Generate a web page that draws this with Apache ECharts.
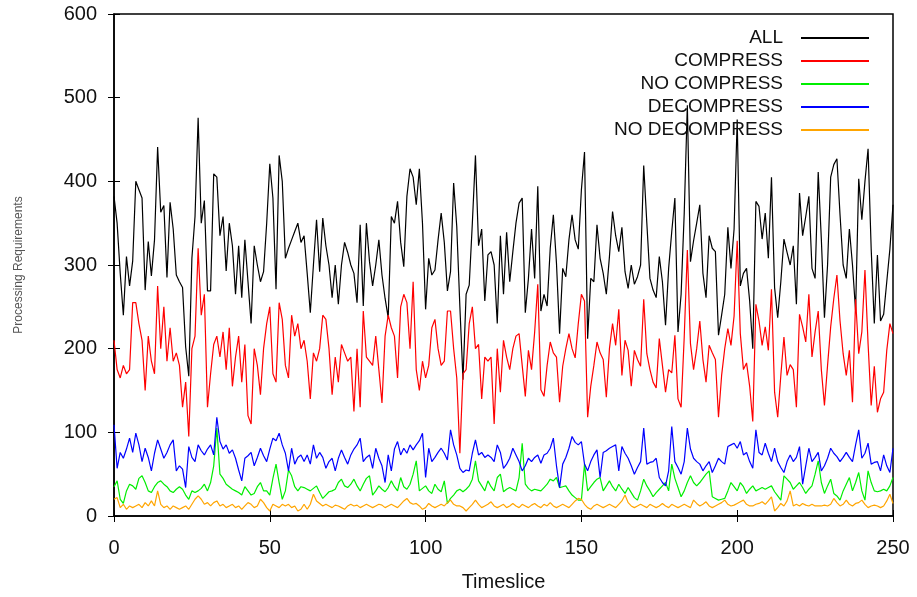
<!DOCTYPE html>
<html>
<head>
<meta charset="utf-8">
<script src="https://cdn.jsdelivr.net/npm/echarts@6/dist/echarts.min.js"></script>
<style>
  html, body { margin: 0; padding: 0; background: #fff; }
  #chart { width: 917px; height: 597px; }
</style>
</head>
<body>
<div id="chart"></div>
<script>
// processing requirements per timeslice (0..250)
const seriesNames = ['ALL', 'COMPRESS', 'NO COMPRESS', 'DECOMPRESS', 'NO DECOMPRESS'];
const seriesColors = ['#000000', '#ff0000', '#00ee00', '#0000ff', '#ffa500'];
const yTicks = [0, 100, 200, 300, 400, 500, 600];
const xTicks = [0, 50, 100, 150, 200, 250];

const allValues = [
  382, 350, 290, 240, 310, 275, 305, 400, 390, 380,
  270, 328, 287, 330, 441, 363, 371, 285, 375, 343,
  288, 280, 273, 202, 167, 308, 358, 476, 350, 377,
  269, 269, 409, 405, 335, 358, 293, 350, 323, 265,
  323, 261, 330, 280, 230, 323, 300, 280, 292, 350,
  421, 380, 271, 431, 400, 308, 320, 330, 340, 350,
  327, 335, 290, 243, 300, 354, 292, 356, 323, 300,
  261, 300, 253, 300, 327, 315, 300, 290, 255, 348,
  251, 350, 304, 275, 300, 330, 288, 260, 237, 358,
  350, 376, 327, 298, 382, 415, 405, 372, 415, 350,
  247, 308, 288, 294, 330, 362, 327, 269, 292, 398,
  346, 250, 163, 265, 276, 350, 431, 323, 343, 257,
  312, 316, 300, 230, 335, 265, 339, 280, 316, 350,
  374, 380, 243, 284, 343, 284, 394, 245, 265, 251,
  320, 360, 302, 218, 296, 286, 330, 360, 330, 319,
  390, 435, 212, 284, 280, 348, 308, 290, 265, 310,
  364, 335, 316, 345, 292, 272, 300, 277, 286, 300,
  419, 350, 284, 270, 261, 310, 280, 228, 296, 340,
  380, 220, 265, 362, 491, 304, 329, 350, 372, 290,
  261, 335, 320, 316, 216, 240, 265, 345, 296, 343,
  474, 275, 290, 296, 257, 200, 376, 370, 331, 362,
  308, 405, 273, 237, 280, 331, 315, 300, 323, 253,
  386, 335, 358, 382, 296, 284, 411, 331, 237, 300,
  405, 420, 427, 360, 300, 284, 343, 300, 245, 403,
  354, 400, 439, 319, 230, 312, 233, 241, 280, 319,
  372
];

const compressValues = [
  210, 175, 165, 180, 170, 175, 255, 255, 230, 210,
  150, 215, 185, 170, 275, 200, 250, 185, 225, 185,
  195, 180, 130, 160, 95, 200, 215, 320, 240, 265,
  130, 170, 205, 215, 190, 220, 175, 225, 155, 190,
  215, 160, 205, 120, 110, 200, 180, 145, 200, 230,
  250, 170, 160, 255, 235, 180, 165, 240, 215, 230,
  200, 210, 185, 140, 195, 185, 200, 240, 235, 200,
  145, 190, 160, 205, 195, 185, 190, 125, 200, 130,
  245, 190, 185, 180, 215, 175, 135, 215, 240, 225,
  215, 165, 250, 265, 255, 200, 280, 175, 150, 185,
  165, 180, 225, 235, 200, 180, 185, 245, 245, 200,
  165, 75, 170, 175, 230, 250, 200, 205, 140, 190,
  185, 190, 110, 200, 148, 210, 190, 175, 200, 215,
  218, 180, 143, 198, 175, 220, 277, 151, 143, 180,
  208, 195, 190, 136, 179, 200, 218, 200, 189, 230,
  265, 257, 118, 155, 180, 208, 195, 187, 142, 200,
  230, 204, 247, 168, 210, 198, 155, 198, 187, 179,
  259, 194, 175, 160, 153, 212, 180, 148, 175, 171,
  216, 140, 130, 214, 318, 206, 175, 200, 233, 187,
  160, 204, 195, 187, 118, 168, 200, 224, 204, 239,
  329, 218, 175, 183, 155, 113, 253, 233, 204, 226,
  198, 271, 148, 118, 168, 214, 168, 181, 175, 130,
  241, 226, 208, 265, 190, 220, 245, 175, 132, 180,
  226, 260, 288, 233, 194, 168, 198, 136, 259, 194,
  220, 294, 206, 132, 179, 124, 140, 148, 198, 230,
  218
];

const noCompressValues = [
  35, 42, 20, 15, 30, 38, 36, 32, 45, 48,
  40, 30, 28, 35, 40, 42, 38, 35, 30, 28,
  32, 35, 32, 25, 20, 30, 28, 30, 33, 38,
  30, 40, 60, 105, 50, 45, 38, 35, 32, 30,
  28, 25, 35, 30, 25, 27, 35, 40, 30, 30,
  25, 45, 62, 40, 20, 30, 55, 48, 35, 30,
  35, 34, 32, 30, 33, 36, 28, 21, 25, 29,
  30, 32, 40, 44, 36, 34, 38, 44, 36, 30,
  38, 45, 48, 25, 30, 36, 32, 29, 34, 42,
  35, 30, 46, 35, 32, 38, 50, 66, 30, 33,
  36, 30, 27, 38, 32, 29, 42, 15, 21, 25,
  30, 32, 29, 32, 36, 44, 66, 42, 36, 30,
  42, 35, 30, 46, 50, 29, 32, 34, 32, 30,
  46, 87, 38, 33, 30, 32, 31, 30, 34, 38,
  44, 42, 46, 34, 35, 36, 30, 25, 22, 19,
  19, 62, 30, 35, 40, 44, 46, 30, 36, 42,
  35, 30, 38, 32, 27, 34, 28, 22, 19, 30,
  44, 36, 30, 23, 28, 32, 36, 40, 30, 62,
  45, 34, 23, 30, 40, 48, 40, 36, 40, 45,
  50, 54, 23, 21, 19, 20, 21, 30, 40, 35,
  30, 40, 35, 27, 32, 36, 30, 32, 34, 32,
  34, 36, 29, 24, 19, 48, 44, 40, 32, 36,
  40, 34, 27, 32, 36, 50, 66, 40, 27, 36,
  44, 27, 24, 19, 30, 38, 46, 30, 40, 52,
  30, 19, 54, 40, 30, 29, 30, 32, 30, 36,
  46
];

const decompressValues = [
  109, 57, 76, 69, 80, 93, 76, 99, 85, 65,
  81, 70, 54, 75, 91, 80, 69, 76, 85, 91,
  54, 60, 56, 34, 83, 70, 65, 85, 78, 73,
  80, 85, 73, 118, 89, 80, 85, 75, 79, 69,
  55, 42, 69, 72, 76, 60, 70, 81, 72, 65,
  80, 93, 90, 99, 85, 75, 54, 81, 62, 70,
  73, 65, 73, 62, 85, 69, 76, 70, 57, 65,
  69, 54, 69, 79, 70, 62, 73, 80, 85, 93,
  65, 70, 73, 57, 81, 69, 60, 40, 73, 54,
  80, 89, 73, 81, 75, 85, 79, 85, 90, 99,
  46, 81, 65, 70, 76, 81, 75, 67, 103, 85,
  73, 57, 52, 55, 54, 75, 91, 73, 76, 70,
  73, 70, 65, 85, 76, 57, 62, 69, 81, 73,
  65, 54, 60, 69, 65, 70, 73, 63, 73, 75,
  81, 93, 60, 34, 62, 70, 81, 95, 88, 85,
  89, 62, 54, 65, 73, 79, 46, 76, 78, 81,
  83, 85, 54, 83, 75, 69, 60, 50, 58, 65,
  105, 62, 64, 65, 69, 46, 40, 36, 54, 107,
  65, 58, 50, 65, 105, 80, 69, 65, 62, 54,
  60, 65, 52, 60, 69, 65, 62, 83, 85, 87,
  81, 89, 73, 76, 65, 57, 103, 76, 73, 87,
  75, 65, 81, 65, 58, 52, 65, 73, 65, 70,
  83, 38, 60, 81, 65, 70, 76, 54, 60, 69,
  81, 75, 71, 65, 70, 76, 70, 65, 85, 103,
  69, 75, 87, 62, 64, 65, 54, 73, 60, 52,
  81
];

const noDecompressValues = [
  20, 22, 10, 14, 8, 12, 10, 12, 14, 10,
  16, 12, 18, 12, 30, 14, 10, 12, 8, 12,
  10, 8, 10, 12, 8, 14, 20, 24, 20, 14,
  16, 12, 16, 18, 12, 14, 10, 12, 14, 10,
  12, 8, 12, 16, 14, 10, 12, 20, 16, 10,
  6, 14, 12, 10, 14, 12, 14, 10, 12, 6,
  8, 14, 8, 14, 26, 18, 15, 12, 14, 12,
  10, 13, 12, 10, 8, 12, 14, 12, 13, 10,
  12, 14, 12, 10, 12, 14, 13, 10, 12, 14,
  12, 10, 14, 18, 21, 16, 14, 15, 12, 8,
  10, 15, 12, 10, 12, 14, 12, 16, 19, 14,
  12, 12, 10, 6, 10, 14, 19, 14, 10, 12,
  14, 17, 12, 10, 12, 14, 10, 12, 15, 12,
  10, 14, 12, 10, 13, 15, 12, 10, 14, 12,
  16, 12, 10, 12, 14, 12, 10, 14, 18, 21,
  20, 14, 10, 8, 12, 14, 12, 10, 12, 14,
  12, 10, 14, 18, 25, 16, 12, 10, 12, 14,
  12, 10, 14, 12, 10, 12, 15, 12, 10, 14,
  12, 10, 12, 14, 12, 10, 19, 15, 12, 14,
  17, 12, 10, 12, 14, 16, 19, 14, 12, 13,
  15, 17, 19, 14, 12, 12, 14, 15, 17, 14,
  18, 23, 6, 10, 15, 12, 18, 30, 12, 14,
  12, 15, 13, 12, 14, 12, 12, 12, 13, 12,
  14, 21, 16, 12, 14, 19, 14, 12, 15, 16,
  19, 14, 10, 12, 13, 12, 10, 12, 18, 26,
  15
];

const valueLists = [allValues, compressValues, noCompressValues, decompressValues, noDecompressValues];

const chart = echarts.init(document.getElementById('chart'));

const font = 'Liberation Sans, Arial, sans-serif';

const series = seriesNames.map((name, k) => ({
  name: name,
  type: 'line',
  xAxisIndex: 0,
  yAxisIndex: 0,
  showSymbol: false,
  symbol: 'none',
  lineStyle: { width: 1.2, color: seriesColors[k] },
  itemStyle: { color: seriesColors[k] },
  data: valueLists[k].map((v, i) => [i, v])
}));

const tickStyle = { show: true, inside: true, length: 6, lineStyle: { color: '#000', width: 1 } };

chart.setOption({
  animation: false,
  backgroundColor: '#fff',
  grid: {
    left: 114, right: 24, top: 14, bottom: 71,
    show: true, borderColor: '#000', borderWidth: 1.5, backgroundColor: 'transparent'
  },
  legend: {
    data: seriesNames,
    orient: 'vertical',
    right: 43,
    top: 23,
    align: 'right',
    icon: 'rect',
    itemWidth: 68,
    itemHeight: 2,
    itemGap: 3,
    textStyle: { fontFamily: font, fontSize: 19, color: '#111', padding: [0, 13, 0, 0], lineHeight: 20 }
  },
  xAxis: [
    {
      type: 'value', min: 0, max: 250, interval: 50,
      name: 'Timeslice', nameLocation: 'middle', nameGap: 56,
      nameTextStyle: { fontFamily: font, fontSize: 20, color: '#111' },
      axisLine: { show: true, lineStyle: { color: '#000', width: 1.5 } },
      axisTick: tickStyle,
      splitLine: { show: false },
      axisLabel: { fontFamily: font, fontSize: 20, color: '#111', margin: 22,
        formatter: v => xTicks.includes(v) ? String(v) : '' }
    },
    {
      type: 'value', min: 0, max: 250, interval: 50, position: 'top',
      axisLine: { show: false }, axisTick: tickStyle, axisLabel: { show: false }, splitLine: { show: false }
    }
  ],
  yAxis: [
    {
      type: 'value', min: 0, max: 600, interval: 100,
      name: 'Processing Requirements', nameLocation: 'middle', nameGap: 89,
      nameTextStyle: { fontFamily: font, fontSize: 12, color: '#555' },
      axisLine: { show: true, lineStyle: { color: '#000', width: 1.5 } },
      axisTick: tickStyle,
      splitLine: { show: false },
      axisLabel: { fontFamily: font, fontSize: 20, color: '#111', margin: 17,
        formatter: v => yTicks.includes(v) ? String(v) : '' }
    },
    {
      type: 'value', min: 0, max: 600, interval: 100, position: 'right',
      axisLine: { show: false }, axisTick: tickStyle, axisLabel: { show: false }, splitLine: { show: false }
    }
  ],
  series: series
});
</script>
</body>
</html>
